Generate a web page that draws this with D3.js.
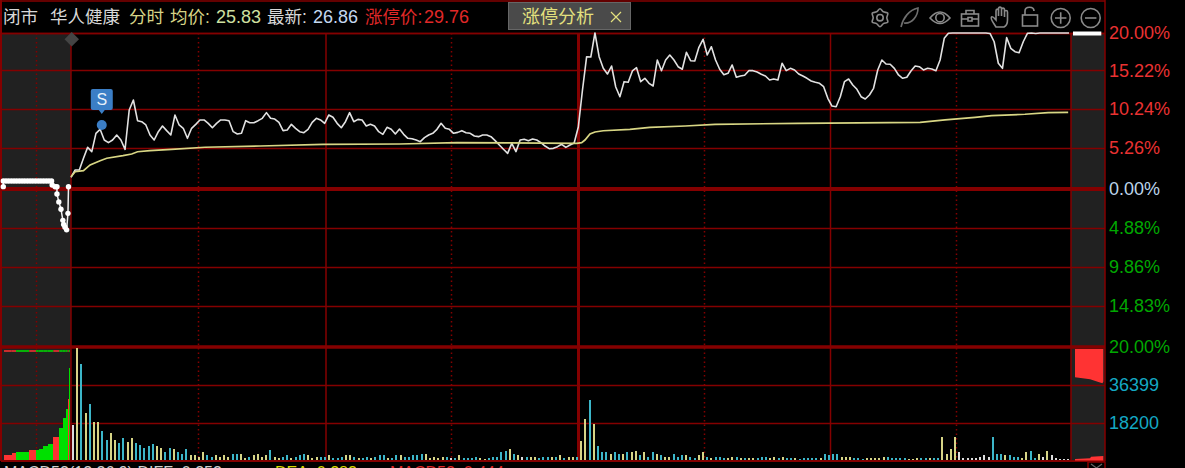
<!DOCTYPE html>
<html><head><meta charset="utf-8">
<script src="https://cdn.jsdelivr.net/npm/d3@7"></script>
<style>
html,body{margin:0;padding:0;background:#000;overflow:hidden;width:1185px;height:468px}
svg{display:block}
text{font-family:"Liberation Sans","Noto Sans CJK SC",sans-serif}
</style></head><body><div id="c"></div>
<script>
// ---- data ----
const pricePct=[1.5,2.44,2.44,3.93,5.34,4.79,7.14,7.65,6.28,5.94,6.28,6.92,6.28,5.09,10.13,11.41,8.76,8.63,8.21,6.92,
6.28,7.35,8.08,7.48,6.92,9.49,8.21,7.78,6.5,7.78,8.29,8.85,8.85,8.42,7.86,8.42,8.85,8.85,8.76,7.35,
7.05,7.14,8.76,8.5,8.5,8.76,9.06,9.79,9.06,8.97,8.55,7.48,7.56,8.29,7.78,7.35,7.22,7.65,8.55,9.06,8.85,8.42,
9.49,9.19,8.42,7.86,8.63,9.79,8.63,8.93,8.85,8.08,8.29,8.08,7.35,7.01,7.91,7.65,7.05,7.69,7.01,6.5,
6.45,6.28,6.07,6.58,6.92,7.14,7.65,8.42,7.78,7.65,7.14,7.26,7.48,7.22,7.14,6.79,6.71,6.92,6.92,6.71,
6.2,5.64,5.09,4.57,5.85,4.79,6.28,6.37,6.2,6.41,6.28,5.94,5.51,5.17,5.21,5.43,5.73,5.34,5.64,
5.9,7.95,12.69,16.96,16.92,20,
16.96,15.47,14.74,15.77,13.08,11.83,13.76,13.68,15.13,15.55,13.76,14.19,13.55,13.21,16.54,15.17,16.54,17.18,16.54,15.68,15.35,17.53,16.45,16.41,18.17,19.19,17.18,18.24,16.54,15.35,14.65,14.83,15.9,14.32,14.49,14.58,15.17,15.17,15,14.71,14.49,13.97,14.1,13.97,16.12,15.17,15.47,15.26,14.74,
14.49,14.19,13.85,13.68,13.55,13.12,11.63,10.64,10.55,11.83,13.76,14.1,13.33,12.78,11.83,11.54,12.05,12.91,15.26,16.54,16.03,15.99,15.47,14.62,14.19,14.32,15.13,15.77,15.68,15.26,15.47,15.38,15.17,16.54,19.32,19.96,
20,20,20,20,20,20,20,20,20,19.94,18.88,16.12,15.47,19.41,18.04,17.6,17.47,18.88,19.96,20,19.94,20,20,20,20,20,20,20,20];
const avgMinute=[0,1,3,4.6,7,8.6,12.5,14.6,16,19,24.2,32.2,45.5,60.6,79,92.8,121.6,122.8,123.6,124.8,126,128,134.4,139.2,147.7,154.9,174.8,204.2,210.2,217.4,221.4,229.4,235,239.8];
const avgPct=[1.58,2.22,2.35,3.08,3.63,3.94,4.28,4.49,4.78,4.91,5.09,5.35,5.51,5.73,5.77,5.94,5.86,5.94,6.28,7.05,7.31,7.47,7.65,7.91,8.08,8.29,8.42,8.55,8.85,9.19,9.4,9.58,9.78,9.83];
const preMinute=[0,0,1,2,3,4,5,6,7,8,9,10,11,12,13,14,15,16,17,18,18.2,19.3,20,20,20.7,21.5,22.2,22.5,23,23.6,24.1,24.3];
const prePricePct=[0.3,1.03,1.03,1.03,1.03,1.03,1.03,1.03,1.03,1.03,1.03,1.03,1.03,1.03,1.03,1.03,1.03,1.03,1.03,1.03,0.51,0.29,0.29,-0.64,-1.63,-2.56,-3.97,-4.49,-4.83,-5.17,-3.08,0.29];
const postMinute=[0,0.5,1,1.5,2,2.5,3];
const postPricePct=[20,20,20,20,20,20,20];
const volumes=[17280,54240,46560,23040,27360,18720,18720,14400,10080,13440,10080,8640,11040,9120,11040,8640,7680,6240,7200,8160,
7200,6240,4320,6240,5760,4320,3360,5760,2880,2880,1920,4320,2880,1920,2880,1920,2880,1920,3360,3360,
3360,1440,1920,2880,3360,1920,2880,5280,1920,1440,1920,2880,1440,1920,2880,
3360,2880,1440,1920,1920,1920,2880,1440,1440,1920,
2880,2880,1920,1440,1440,1920,1440,1920,2880,2880,
1440,1440,2880,2880,1920,1920,2880,2880,3360,3360,
1440,1920,1440,1920,1920,1440,1440,2880,1440,1440,
1440,1920,1440,960,1440,1920,1920,4320,4800,5760,
3360,2880,1920,1920,1920,1920,1440,1920,1920,1920,
1920,2880,1440,1920,1920,1920,9600,20160,29280,17760,
7200,4320,4320,3360,4320,3360,3360,4320,4320,4800,
2880,4320,1920,4320,3360,2880,1920,1920,3360,1920,
2880,2880,1920,1440,2880,
4320,1920,1440,1920,1920,1440,1440,1920,1920,1440,
1440,1440,1440,1440,1920,1920,1440,1920,1440,1920,
1440,1440,1440,960,1440,1440,1440,1440,1440,3360,
2880,3360,3360,1920,1920,1920,1440,1440,960,1440,
1440,1440,1440,1920,1920,1440,1440,1440,1440,960,
960,1440,1440,1440,1440,1440,1440,11520,3360,5760,
11520,4320,1440,1440,1440,1440,1920,2880,1920,11520,
3360,3360,2880,2880,1920,1920,1440,4320,4800,1440,
3360,1920,4800,2880,1440,960,960,960];
const volumeSides=["wycycyyccy","yccyyccccc","yyccycccyy","yyccyyyycc","yycyyyycyy","ccycc",
"cyyyccyccc","yycyccyccc","yccycccccy","yyyycwcycc","ccyycccccy","cywcyycccy","cycyycyycy","cccyccycyy","cyccycyycc","cyccy",
"ycycccyycy","cyycccyycy","ccycccccyc","cccyyycccy","yyyycccccy","yyccyccyyy","ywwwwwwwwc","ccycccyycc","ywywwwww"].join("").split("");
const preVolStart=[0,2.96,4.62,9.73,12.3,13.35,15.1,16.8,19,21.3,22.6,23.7,24.5,24.9];
const preVolEnd=25.4;
const preVolumes=[2880,3840,4320,5280,5280,5760,7200,8160,11520,15840,20640,24960,29760,44640];
const preVolSides=["r","r","g","r","g","g","g","g","r","g","g","g","r","g"];
const preCapVolume=52800;
const postVolMinute=[0,1.6,2.4,2.9,3];
const postUpperTop=53630;
const postUpperBase=[40000,39060,37900,37130,37900];
const postLowerMinute=[0,1.6,1.7,3];
const postLowerVol=[720,1060,1830,2160];
const priceTicks=[20,15.22,10.24,5.26,0,-4.88,-9.86,-14.83,-20];
const volumeTicks=[36399,18200];
const priceGrid=[20,15.22,10.24,5.26,-4.88,-9.86,-14.83];
const volumeGrid=[36399,18200];
const signalMinute=7.4, signalPct=8.2, signalLabel="S";

// ---- scales ----
const W=1185,H=468;
const svg=d3.select("#c").append("svg").attr("width",W).attr("height",H);
const yP=d3.scaleLinear().domain([-20,0,20]).range([347,189,33]);
const yV=d3.scaleLinear().domain([0,54600]).range([460.5,347]);
const xP=d3.scaleLinear().domain([0,240]).range([71,1069]);
const xB=d3.scaleLinear().domain([0,237]).range([73,1068.4]);
const xPre=d3.scaleLinear().domain([0,24.3]).range([3.3,68.5]);
const xPreV=d3.scaleLinear().domain([0,25.4]).range([4,70]);
const xPost=d3.scaleLinear().domain([0,3]).range([1075,1103.3]);
const RED="#840000", BG="#212121";

// ---- backgrounds ----
svg.append("rect").attr("x",1).attr("y",33).attr("width",70).attr("height",427).attr("fill",BG);
svg.append("rect").attr("x",1071).attr("y",33).attr("width",34).attr("height",427).attr("fill",BG);

// ---- grid ----
const g=svg.append("g");
function hl(y,w,x1=1,x2=1105){g.append("line").attr("x1",x1).attr("x2",x2).attr("y1",y).attr("y2",y).attr("stroke",RED).attr("stroke-width",w);}
function vl(x,w,dash,y1=33,y2=460){const l=g.append("line").attr("x1",x).attr("x2",x).attr("y1",y1).attr("y2",y2).attr("stroke",RED).attr("stroke-width",w);if(dash)l.attr("stroke-dasharray",dash);}
priceGrid.forEach(v=>hl(Math.round(yP(v))+.5,1.5));
volumeGrid.forEach(v=>hl(Math.round(yV(v))+.5,1.5));
hl(33.5,1.5);hl(189,4);hl(347,3.5);hl(461,2);
[36,198,451,704,956].forEach(x=>vl(x+.5,1.5,"1.5 3"));
vl(71,1.5);vl(326,1.5);vl(578.5,3);vl(830.5,1.5);vl(1071,1.5);
vl(1,2,null,0,461);vl(1105,1.5,null,0,461);hl(1,1.5,0,1105);

// ---- volume bars ----
const sideColor=d3.scaleOrdinal().domain(["y","c","w"]).range(["#d6d486","#3cb6c9","#dcdcdc"]);
svg.append("g").selectAll("rect").data(volumes).join("rect")
  .attr("x",(d,i)=>Math.round(xB(i))-1).attr("width",2)
  .attr("y",d=>yV(d)).attr("height",d=>yV(0)-yV(d)-.5)
  .attr("fill",(d,i)=>sideColor(volumeSides[i])).attr("shape-rendering","crispEdges");
const preColor=d3.scaleOrdinal().domain(["r","g"]).range(["#ff3333","#00e000"]);
const preNext=i=>i+1<preVolStart.length?preVolStart[i+1]:preVolEnd;
svg.append("g").selectAll("rect").data(preVolumes).join("rect")
  .attr("x",(d,i)=>xPreV(preVolStart[i])).attr("width",(d,i)=>xPreV(preNext(i))-xPreV(preVolStart[i]))
  .attr("y",d=>yV(d)).attr("height",d=>yV(0)-yV(d)-.5)
  .attr("fill",(d,i)=>preColor(preVolSides[i])).attr("shape-rendering","crispEdges");
svg.append("g").selectAll("rect").data(preVolumes).join("rect")
  .attr("x",(d,i)=>xPreV(preVolStart[i])).attr("width",(d,i)=>xPreV(preNext(i))-xPreV(preVolStart[i]))
  .attr("y",yV(preCapVolume)-.5).attr("height",1.5)
  .attr("fill",(d,i)=>preColor(preVolSides[i]));
// closing auction areas
svg.append("path").attr("fill","#ff3333")
  .attr("d",d3.area().x((d,i)=>xPost(postVolMinute[i])).y0(yV(postUpperTop)).y1(d=>yV(d))(postUpperBase));
svg.append("path").attr("fill","#ff3333")
  .attr("d",d3.area().x((d,i)=>xPost(postLowerMinute[i])).y0(yV(0)).y1(d=>yV(d))(postLowerVol));

// ---- price lines ----
const line=d3.line();
svg.append("path").attr("fill","none").attr("stroke","#e2e2e2").attr("stroke-width",1.6).attr("stroke-linejoin","round")
  .attr("d",line.x((d,i)=>xP(i)).y(d=>yP(d))(pricePct));
svg.append("path").attr("fill","none").attr("stroke","#d8d684").attr("stroke-width",1.7)
  .attr("d",d3.line().x((d,i)=>xP(avgMinute[i])).y(d=>yP(d))(avgPct));
svg.append("path").attr("fill","none").attr("stroke","#f0f0f0").attr("stroke-width",1.5)
  .attr("d",d3.line().x((d,i)=>xPre(preMinute[i])).y(d=>yP(d))(prePricePct));
svg.append("g").selectAll("circle").data(prePricePct).join("circle")
  .attr("cx",(d,i)=>xPre(preMinute[i])).attr("cy",d=>yP(d)).attr("r",2.7).attr("fill","#fff");
svg.append("path").attr("fill","none").attr("stroke","#fff").attr("stroke-width",4)
  .attr("d",d3.line().x((d,i)=>xPost(postMinute[i])-2).y(d=>yP(d)+.5)(postPricePct));

// ---- signal marker ----
const sx=xP(signalMinute), sy=yP(signalPct);
svg.append("circle").attr("cx",sx).attr("cy",sy).attr("r",5).attr("fill","#3b7ec6");
svg.append("path").attr("fill","#3b7ec6")
  .attr("d",`M${sx-11} ${sy-34} a2 2 0 0 1 2 -2 h18 a2 2 0 0 1 2 2 v17 a2 2 0 0 1 -2 2 h-6 l-3 4 l-3 -4 h-6 a2 2 0 0 1 -2 -2 z`);
svg.append("text").attr("x",sx).attr("y",sy-20).attr("text-anchor","middle").attr("font-size",16).attr("fill","#e8f0fa").text(signalLabel);
svg.append("path").attr("d","M71.7 32 L79 39.3 L71.7 46.5 L64.5 39.3 Z").attr("fill","#444");

// ---- right axes ----
function tickColor(v){return v>0?"#ea3232":v<0?"#00a800":"#bcd4ea";}
const ax=svg.append("g").attr("transform","translate(1109,0)")
  .call(d3.axisRight(yP).tickValues(priceTicks).tickSize(0).tickPadding(0).tickFormat(v=>Math.abs(v).toFixed(2)+"%"));
ax.select(".domain").remove();
ax.selectAll("text").attr("font-size",18).attr("font-family",'"Liberation Sans",sans-serif').attr("fill",tickColor);
const av=svg.append("g").attr("transform","translate(1109,0)")
  .call(d3.axisRight(yV).tickValues(volumeTicks).tickSize(0).tickPadding(0).tickFormat(d3.format("d")));
av.select(".domain").remove();
av.selectAll("text").attr("font-size",18).attr("font-family",'"Liberation Sans",sans-serif').attr("fill","#14a8c4");

// ---- header ----
const head=[[3,"闭市","#d8d8d8",17.5],[50,"华人健康","#d8d8d8",17.5],[129,"分时","#d6d486",17.5],[170,"均价:","#d6d486",17.5],[216,"25.83","#cfe0a0",18],
 [267,"最新:","#d8d8d8",17.5],[313,"26.86","#c4d8f0",18],[365,"涨停价:","#e02828",17.5],[424,"29.76","#e02828",18]];
svg.append("g").selectAll("text").data(head).join("text")
  .attr("x",d=>d[0]).attr("y",23).attr("font-size",d=>d[3]).attr("fill",d=>d[2]).text(d=>d[1]);
svg.append("rect").attr("x",508.5).attr("y",2.5).attr("width",122).attr("height",27).attr("fill","#4a4a4a").attr("stroke","#666");
svg.append("text").attr("x",522).attr("y",23).attr("font-size",18).attr("fill","#e3e07e").text("涨停分析");
svg.append("path").attr("d","M611 12 L621 22 M621 12 L611 22").attr("stroke","#e3e07e").attr("stroke-width",1.2);

// ---- toolbar icons ----
const ic=svg.append("g").attr("fill","none").attr("stroke","#8a8a8a").attr("stroke-width",1.6);
const gearPts=d3.range(12).map(i=>{const r=i%2?9:6.8,a=i*Math.PI/6;return [880+r*Math.cos(a),17.7+r*Math.sin(a)];});
ic.append("path").attr("d",d3.line().curve(d3.curveCardinalClosed)(gearPts));
ic.append("circle").attr("cx",880).attr("cy",17.7).attr("r",3.2);
ic.append("path").attr("d","M901 27 C903 18 909 10 918 8 C918 16 912 24 904 23").attr("stroke","#6e6e6e");
ic.append("path").attr("d","M930 18 Q940 6 950 18 Q940 29 930 18 Z");
ic.append("circle").attr("cx",940).attr("cy",17.7).attr("r",4.2);
ic.append("rect").attr("x",961.5).attr("y",14).attr("width",17).attr("height",12);
ic.append("path").attr("d","M966 14 V10.5 H974 V14 M961.5 19 H968 M972 19 H978.5 M968 17.5 H972 V21 H968 Z");
ic.append("path").attr("d","M996 27 C993 22 990 19 991.5 17 C993 16 995 19 996 20 V11 C996 8.5 998.5 8.5 998.5 11 V16 V9 C998.5 6.5 1001.5 6.5 1001.5 9 V16 V10 C1001.5 7.5 1004.5 7.5 1004.5 10 V17 V12 C1004.5 10 1007.5 10 1007.5 12 V20 C1007.5 24 1006 26 1004 27 Z");
ic.append("rect").attr("x",1022.5).attr("y",15).attr("width",15).attr("height",11);
ic.append("path").attr("d","M1025 15 V11 C1025 6 1034 6 1034 11");
ic.append("circle").attr("cx",1060.7).attr("cy",18).attr("r",9.5);
ic.append("path").attr("d","M1055 18 H1066.4 M1060.7 12.3 V23.7");
ic.append("circle").attr("cx",1090.7).attr("cy",18).attr("r",9.5);
ic.append("path").attr("d","M1085 18 H1096.4");

// ---- footer ----
const foot=[[4,"MACD52(12,26,9)  DIFF:  0.253:","#cfcfcf"],[275,"DEA:  0.283:","#d8d800"],[390,"MACD52:  0.444:","#e02828"]];
svg.append("g").selectAll("text").data(foot).join("text")
  .attr("x",d=>d[0]).attr("y",478).attr("font-size",16).attr("fill",d=>d[2]).text(d=>d[1]);
svg.append("rect").attr("x",1088).attr("y",462).attr("width",17).attr("height",10).attr("fill","none").attr("stroke",RED).attr("stroke-width",1.5);
svg.append("path").attr("d","M1091 464 L1096.5 468 L1102 464").attr("fill","none").attr("stroke","#666").attr("stroke-width",1.2);
</script>
</body></html>
